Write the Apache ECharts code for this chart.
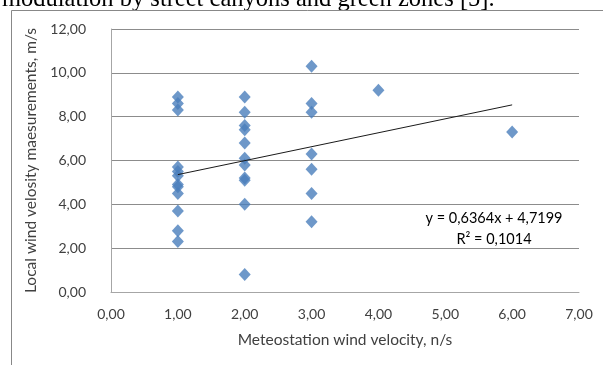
<!DOCTYPE html>
<html><head><meta charset="utf-8">
<script src="https://cdn.jsdelivr.net/npm/echarts@6/dist/echarts.min.js"></script>
<style>html,body{margin:0;padding:0;background:#fff;}#c{width:603px;height:365px;}</style>
</head><body><div id="c"></div>
<script>
// Data
const meteoX = [1,1,1,1,1,1,1,1,1,1,1,1, 2,2,2,2,2,2,2,2,2,2,2, 3,3,3,3,3,3,3, 4, 6];
const localY = [8.9,8.6,8.3,5.7,5.5,5.3,4.9,4.8,4.5,3.7,2.8,2.3,
                8.9,8.2,7.6,7.4,6.8,6.1,5.8,5.2,5.1,4.0,0.8,
                10.3,8.6,8.2,6.3,5.6,4.5,3.2,
                9.2, 7.3];
const trendCoef = [0.6364, 4.7199]; // slope, intercept
const rSquared = 0.1014;
const xTicks = [0,1,2,3,4,5,6,7];
const yTicks = [0,2,4,6,8,10,12];
const headerText = 'modulation by street canyons and green zones [5].';
const xTitle = 'Meteostation wind velocity, n/s';
const yTitle = 'Local wind velosity maesurements, m/s';

const fmt = v => v.toFixed(2).replace('.', ',');
function fmt4(v){ return v.toFixed(4).replace('.', ','); }
const points = meteoX.map((x, i) => [x, localY[i]]);
const xMinD = Math.min(...meteoX), xMaxD = Math.max(...meteoX);
const trend = [xMinD, xMaxD].map(x => [x, trendCoef[0] * x + trendCoef[1]]);

const chart = echarts.init(document.getElementById('c'), null, {renderer: 'canvas'});
const font = 'Lato';
chart.setOption({
  animation: false,
  backgroundColor: '#fff',
  grid: {left: 111, right: 24, top: 29, bottom: 73, containLabel: false},
  xAxis: {
    type: 'value', min: xTicks[0], max: xTicks[xTicks.length - 1], interval: 1,
    name: xTitle, nameLocation: 'middle', nameGap: 40,
    nameTextStyle: {fontFamily: font, fontSize: 15.5, color: '#404040'},
    axisLine: {show: true, lineStyle: {color: '#a6a6a6', width: 1}},
    axisTick: {show: false},
    splitLine: {show: false},
    axisLabel: {formatter: fmt, fontFamily: font, fontSize: 14, color: '#404040', margin: 15}
  },
  yAxis: {
    type: 'value', min: yTicks[0], max: yTicks[yTicks.length - 1], interval: 2,
    name: yTitle, nameLocation: 'middle', nameGap: 67, nameRotate: 90,
    nameTextStyle: {fontFamily: font, fontSize: 15.5, color: '#404040'},
    axisLine: {show: true, lineStyle: {color: '#a6a6a6', width: 1}},
    axisTick: {show: false},
    splitLine: {show: true, lineStyle: {color: '#8c8c8c', width: 1}},
    axisLabel: {formatter: fmt, fontFamily: font, fontSize: 14, color: '#404040', margin: 25}
  },
  series: [
    {type: 'scatter', data: points, symbol: 'diamond', symbolSize: [12, 13],
     itemStyle: {color: '#4a7ebb'}, z: 3},
    {type: 'line', data: trend, symbol: 'none', lineStyle: {color: '#1a1a1a', width: 1}, z: 4}
  ],
  graphic: [
    {type: 'text', left: 2, top: -13, style: {text: headerText, font: '24.5px "Liberation Serif"', fill: '#000'}},
    {type: 'line', shape: {x1: 11.5, y1: 10.5, x2: 603, y2: 10.5}, style: {stroke: '#888', lineWidth: 1}},
    {type: 'line', shape: {x1: 11.5, y1: 10.5, x2: 11.5, y2: 365}, style: {stroke: '#888', lineWidth: 1}},
    {type: 'text', x: 494, y: 218, style: {text: 'y = ' + fmt4(trendCoef[0]) + 'x + ' + fmt4(trendCoef[1]), font: '14.5px Lato', fill: '#000', align: 'center', verticalAlign: 'middle'}},
    {type: 'text', x: 494, y: 239, style: {text: 'R² = ' + fmt4(rSquared), font: '14.5px Lato', fill: '#000', align: 'center', verticalAlign: 'middle'}}
  ]
});
</script></body></html>
